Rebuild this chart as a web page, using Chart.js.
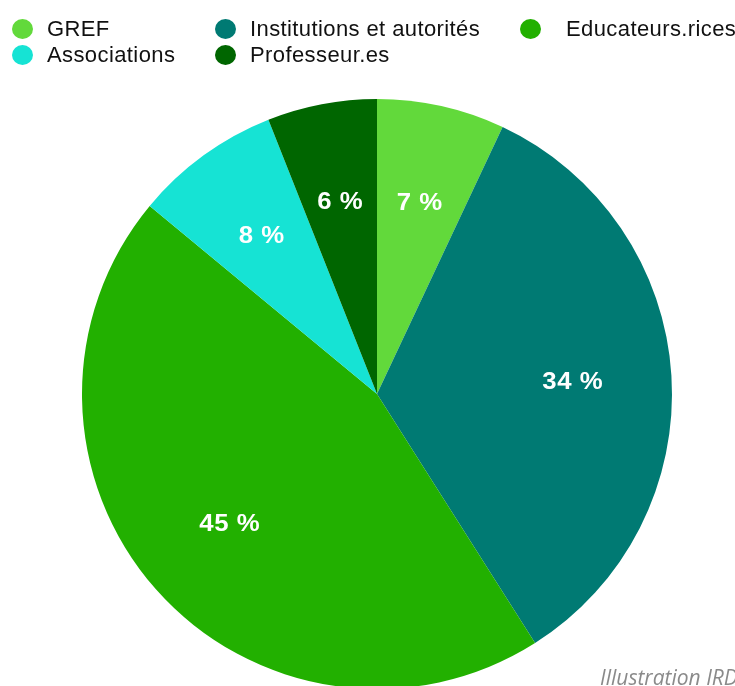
<!DOCTYPE html>
<html>
<head>
<meta charset="utf-8">
<script src="https://cdn.jsdelivr.net/npm/chart.js@4"></script>
<style>
    html, body { margin: 0; padding: 0; background: #fff; }
    body { width: 735px; height: 686px; overflow: hidden; position: relative; font-family: "Liberation Sans", Arial, sans-serif; }
    #legend { position: absolute; left: 12px; top: 19px; display: grid; grid-template-columns: 203px 305px auto; row-gap: 6px; }
    .item { display: flex; align-items: center; font-size: 22px; letter-spacing: 0.4px; color: #111; height: 20px; white-space: nowrap; }
    .dot { width: 21px; height: 20px; border-radius: 50%; margin-right: 14px; flex: none; }
    .item:nth-child(3) .dot { margin-right: 25px; }
    #wrap { position: absolute; left: 0; top: 0; width: 735px; height: 720px; }
    #caption { position: absolute; left: 600px; top: 663px; font-family: "Open Sans", sans-serif; font-style: italic; font-size: 21px; color: #8a8a8a; white-space: nowrap; }
</style>
</head>
<body>
<div id="wrap"><canvas id="pieChart"></canvas></div>
<div id="legend"></div>
<div id="caption">Illustration IRDP</div>
<script>
// Répartition des participant.es
const labels = ['GREF', 'Institutions et autorités', 'Educateurs.rices', 'Associations', 'Professeur.es'];
const values = [7, 34, 45, 8, 6];
const colors = ['#62d93b', '#007a73', '#22b000', '#16e3d4', '#006600'];

const legendBox = document.getElementById('legend');
legendBox.innerHTML = labels.map((label, i) => `
    <div class="item"><span class="dot" style="background:${colors[i]}"></span>${label}</div>
`).join('');

// Percent labels drawn inside each slice
const sliceLabels = {
    id: 'sliceLabels',
    afterDatasetsDraw(chart) {
        const ctx = chart.ctx;
        const meta = chart.getDatasetMeta(0);
        const total = values.reduce((a, b) => a + b, 0);
        meta.data.forEach((arc, i) => {
            const mid = (arc.startAngle + arc.endAngle) / 2;
            const r = arc.outerRadius * 0.665;
            const x = arc.x + Math.cos(mid) * r;
            const y = arc.y + Math.sin(mid) * r;
            ctx.save();
            ctx.translate(x, y + 1);
            ctx.scale(1.12, 1);
            ctx.fillStyle = '#ffffff';
            ctx.font = 'bold 23px "Liberation Sans", Arial, sans-serif';
            ctx.letterSpacing = '0.5px';
            ctx.textAlign = 'center';
            ctx.textBaseline = 'middle';
            ctx.fillText(Math.round(values[i] / total * 100) + ' %', 0, 0);
            ctx.restore();
        });
    }
};

new Chart(document.getElementById('pieChart'), {
    type: 'pie',
    data: {
        labels: labels,
        datasets: [{
            data: values,
            backgroundColor: colors,
            borderWidth: 0
        }]
    },
    options: {
        responsive: true,
        maintainAspectRatio: false,
        animation: false,
        layout: {
            padding: { top: 99, bottom: 31, left: 82, right: 63 }
        },
        plugins: {
            legend: { display: false },
            tooltip: { enabled: false }
        }
    },
    plugins: [sliceLabels]
});
</script>
</body>
</html>
